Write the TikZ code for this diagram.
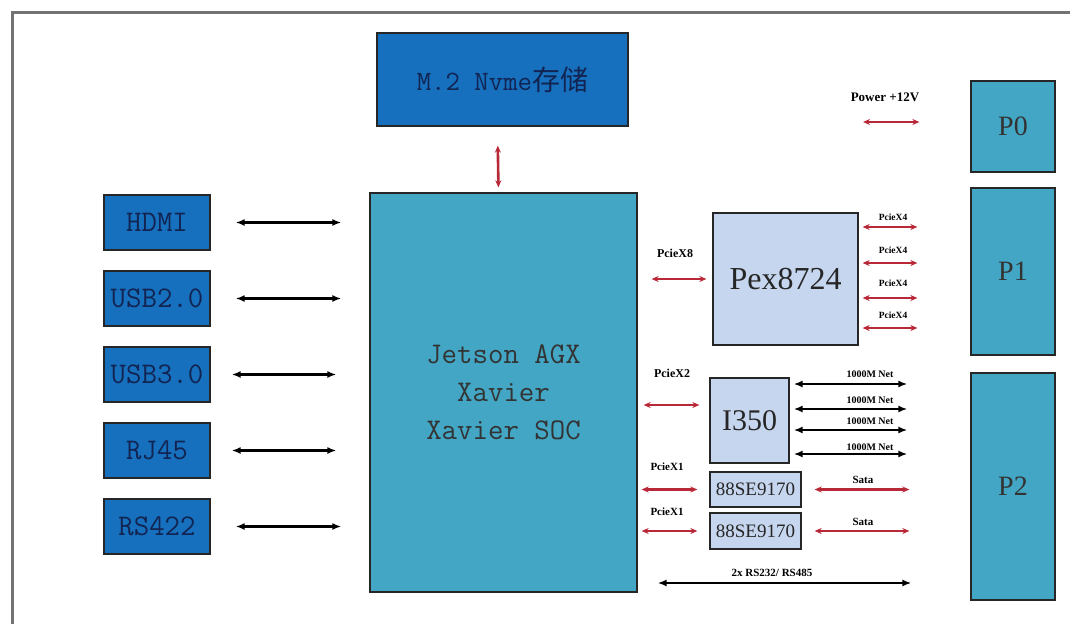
\documentclass[tikz,border=0pt]{standalone}
\usepackage{fontspec}
\setmainfont{Liberation Serif}
\newfontfamily\cjk{Noto Sans CJK SC}
\usetikzlibrary{arrows.meta}
\definecolor{dblue}{RGB}{22,112,190}
\definecolor{socblue}{RGB}{66,166,196}
\definecolor{lblue}{RGB}{198,214,238}
\definecolor{navy}{RGB}{18,36,82}
\definecolor{rline}{RGB}{185,40,55}
\definecolor{frame}{RGB}{115,115,115}
\tikzset{
  bluebox/.style={draw=black!85, line width=1.3pt, fill=dblue, text=navy, inner sep=0pt,
    font=\ttfamily\fontsize{30}{30}\selectfont},
  socbox/.style={draw=black!85, line width=1.3pt, fill=socblue, text=black!80, inner sep=0pt},
  chipbox/.style={draw=black!85, line width=1.3pt, fill=lblue, text=black!85, inner sep=0pt},
  barr/.style={line width=2.2pt, {Latex[length=9pt,width=7pt]}-{Latex[length=9pt,width=7pt]}},
  rarr/.style={draw=rline, line width=2.6pt, {Stealth[length=7pt,width=6pt]}-{Stealth[length=7pt,width=6pt]}},
  lbl/.style={inner sep=0pt, font=\bfseries\fontsize{11}{11}\selectfont},
}
\begin{document}
\begin{tikzpicture}[x=1pt,y=-1pt]
\useasboundingbox (0,0) rectangle (1070,624);
\draw[frame, line width=3pt] (12,624) -- (12,12) -- (1070,12);

% left interface boxes
\node[bluebox, minimum width=106pt, minimum height=55pt] (hdmi) at (157,222.5) {HDMI};
\node[bluebox, minimum width=106pt, minimum height=55pt] (usb2) at (157,298.5) {USB2.0};
\node[bluebox, minimum width=106pt, minimum height=55pt] (usb3) at (157,374.5) {USB3.0};
\node[bluebox, minimum width=106pt, minimum height=55pt] (rj45) at (157,450.5) {RJ45};
\node[bluebox, minimum width=106pt, minimum height=55pt] (rs422) at (157,526.5) {RS422};

% storage and SoC
\node[bluebox, minimum width=251pt, minimum height=93pt, font=\ttfamily\fontsize{28}{28}\selectfont] (m2) at (502.5,79.5) {M.2 Nvme{\cjk 存储}};
\node[socbox, minimum width=267pt, minimum height=399pt, align=center,
  font=\ttfamily\fontsize{30}{38}\selectfont] (soc) at (503.5,392.5) {Jetson AGX\\Xavier\\Xavier SOC};

% chips
\node[chipbox, minimum width=145pt, minimum height=132pt, font=\fontsize{32}{32}\selectfont] (pex) at (785.5,279) {Pex8724};
\node[chipbox, minimum width=79pt, minimum height=85pt, font=\fontsize{30}{30}\selectfont] (i350) at (749.5,420.5) {I350};
\node[chipbox, minimum width=91pt, minimum height=35pt, font=\fontsize{19}{19}\selectfont] (se1) at (755.5,489.5) {88SE9170};
\node[chipbox, minimum width=91pt, minimum height=36pt, font=\fontsize{19}{19}\selectfont] (se2) at (755.5,531) {88SE9170};

% connectors P0-P2
\node[socbox, minimum width=84pt, minimum height=91pt, font=\fontsize{28}{28}\selectfont] (p0) at (1013,126.5) {P0};
\node[socbox, minimum width=84pt, minimum height=167pt, font=\fontsize{28}{28}\selectfont] (p1) at (1013,271.5) {P1};
\node[socbox, minimum width=84pt, minimum height=227pt, font=\fontsize{28}{28}\selectfont] (p2) at (1013,486.5) {P2};

% left arrows
\draw[barr, shorten <=25pt, shorten >=28pt] (hdmi.east) -- (soc.west |- hdmi.east);
\draw[barr, shorten <=25pt, shorten >=28pt] (usb2.east) -- (soc.west |- usb2.east);
\draw[barr, shorten <=21pt, shorten >=33pt] (usb3.east) -- (soc.west |- usb3.east);
\draw[barr, shorten <=21pt, shorten >=33pt] (rj45.east) -- (soc.west |- rj45.east);
\draw[barr, shorten <=25pt, shorten >=28pt] (rs422.east) -- (soc.west |- rs422.east);

% M.2 link
\draw[rarr, shorten <=19pt, shorten >=5pt] ([xshift=-5pt]m2.south) -- ([xshift=-5pt]soc.north);

% power
\coordinate (pw) at (863,122);
\draw[rarr, shorten >=51pt] (pw) -- (p0.west |- pw);
\node[lbl, font=\bfseries\fontsize{13}{13}\selectfont] (pwl) at (885,97) {Power +12V};

% PCIe x8 to switch
\draw[rarr, shorten <=14pt, shorten >=6pt] (soc.east |- pex.west) -- (pex.west);
\node[lbl, font=\bfseries\fontsize{12}{12}\selectfont] (x8l) at (675,253) {PcieX8};

% PCIe x4 from switch
\coordinate (a1) at ([yshift=52pt]pex.east);
\coordinate (a2) at ([yshift=16pt]pex.east);
\coordinate (a3) at ([yshift=-19pt]pex.east);
\coordinate (a4) at ([yshift=-49pt]pex.east);
\foreach \c in {a1,a2,a3,a4}
  \draw[rarr, shorten <=4pt, shorten >=53pt] (\c) -- (p1.west |- \c);
\node[lbl, font=\bfseries\fontsize{9.5}{9.5}\selectfont] (l1) at (893,217) {PcieX4};
\node[lbl, font=\bfseries\fontsize{9.5}{9.5}\selectfont] (l2) at (893,250) {PcieX4};
\node[lbl, font=\bfseries\fontsize{9.5}{9.5}\selectfont] (l3) at (893,283) {PcieX4};
\node[lbl, font=\bfseries\fontsize{9.5}{9.5}\selectfont] (l4) at (893,315) {PcieX4};

% PCIe x2 to I350
\coordinate (x2) at ([yshift=15.5pt]i350.west);
\draw[rarr, shorten <=6pt, shorten >=10pt] (soc.east |- x2) -- (x2);
\node[lbl, font=\bfseries\fontsize{12}{12}\selectfont] (x2l) at (672,373) {PcieX2};

% Net links
\coordinate (n1) at ([yshift=36.5pt]i350.east);
\coordinate (n2) at ([yshift=11.5pt]i350.east);
\coordinate (n3) at ([yshift=-9.5pt]i350.east);
\coordinate (n4) at ([yshift=-33.5pt]i350.east);
\foreach \c in {n1,n2,n3,n4}
  \draw[barr, line width=1.8pt, shorten <=4pt, shorten >=63pt] (\c) -- (p2.west |- \c);
\node[lbl, font=\bfseries\fontsize{10}{10}\selectfont] (nl1) at (870,374) {1000M Net};
\node[lbl, font=\bfseries\fontsize{10}{10}\selectfont] (nl2) at (870,400) {1000M Net};
\node[lbl, font=\bfseries\fontsize{10}{10}\selectfont] (nl3) at (870,421) {1000M Net};
\node[lbl, font=\bfseries\fontsize{10}{10}\selectfont] (nl4) at (870,447) {1000M Net};

% PCIe x1 to SATA controllers
\draw[rarr, shorten <=4pt, shorten >=12pt] (soc.east |- se1.west) -- (se1.west);
\draw[rarr, shorten <=4pt, shorten >=12pt] (soc.east |- se2.west) -- (se2.west);
\node[lbl] (x1a) at (667,467) {PcieX1};
\node[lbl] (x1b) at (667,512) {PcieX1};

% SATA
\draw[rarr, shorten <=13pt, shorten >=61pt] (se1.east) -- (p2.west |- se1.east);
\draw[rarr, shorten <=13pt, shorten >=61pt] (se2.east) -- (p2.west |- se2.east);
\node[lbl] (sa) at (863,480) {Sata};
\node[lbl] (sb) at (863,522) {Sata};

% RS232/RS485
\coordinate (rsy) at (0,583);
\draw[barr, line width=1.8pt, shorten <=20pt, shorten >=59pt] (soc.east |- rsy) -- (p2.west |- rsy);
\node[lbl] (rsl) at (772,573) {2x RS232/ RS485};
\end{tikzpicture}
\end{document}
